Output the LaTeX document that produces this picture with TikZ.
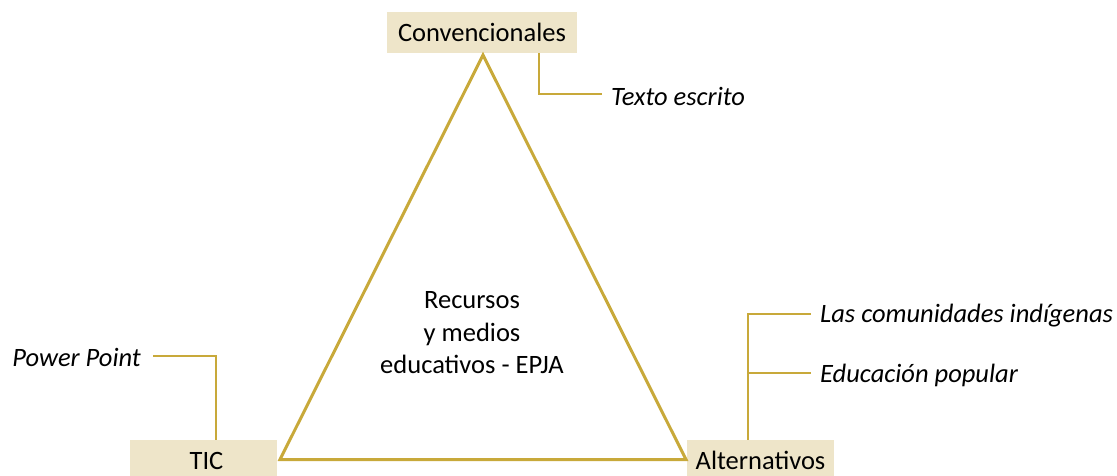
\documentclass[tikz,border=0pt]{standalone}
\usepackage{fontspec}
\setmainfont{Carlito}
\definecolor{gold}{HTML}{C8A93A}
\definecolor{beige}{HTML}{EEE5C9}
\begin{document}
\begin{tikzpicture}[x=1pt,y=-1pt,
  every node/.style={font=\fontsize{26.5}{33}\selectfont},
  catbox/.style={fill=beige,inner sep=0pt,minimum height=41pt},
  leaf/.style={font=\fontsize{26.5}{33}\selectfont\itshape,inner xsep=9pt,inner ysep=2pt},
  conn/.style={draw=gold,line width=1.3pt},
  tri/.style={draw=gold,line width=3pt,line join=miter}]
\useasboundingbox (0,0) rectangle (1117,475);
% boxes
\node[catbox,minimum width=190pt] (conv) at (482,32.5) {Convencionales};
\node[catbox,minimum width=147pt] (tic) at (203.5,460.5) {\hspace*{6pt}TIC};
\node[catbox,minimum width=147pt] (alt) at (760.5,460.5) {Alternativos};
% triangle
\coordinate (apex) at (483,55);
\coordinate (bl) at (280,459.5);
\coordinate (br) at (686,459.5);
\draw[tri] (apex) -- (bl) -- (br) -- cycle;
\node[align=center,font=\fontsize{26.5}{32.5}\selectfont] (center) at (472,333) {Recursos\\y medios\\educativos - EPJA};
% leaves
\node[leaf,anchor=west] (texto) at (602,96) {Texto escrito};
\node[leaf,anchor=east] (pp) at (153,357) {Power Point\hspace*{3pt}};
\node[leaf,anchor=west] (las) at (811,316) {Las comunidades indígenas};
\node[leaf,anchor=west] (edu) at (811,375) {Educación popular};
% connectors
\coordinate (c1) at (539,94);
\coordinate (c2) at (216,356);
\coordinate (c3) at (748,314);
\coordinate (c4) at (748,373);
\coordinate (e4) at (811,373);
\draw[conn] (conv.south -| c1) |- (c1 -| texto.west);
\draw[conn] (tic.north -| c2) |- (c2 -| pp.east);
\draw[conn] (alt.north -| c3) |- (c3 -| las.west);
\draw[conn] (c4) -- (e4);
\end{tikzpicture}
\end{document}
